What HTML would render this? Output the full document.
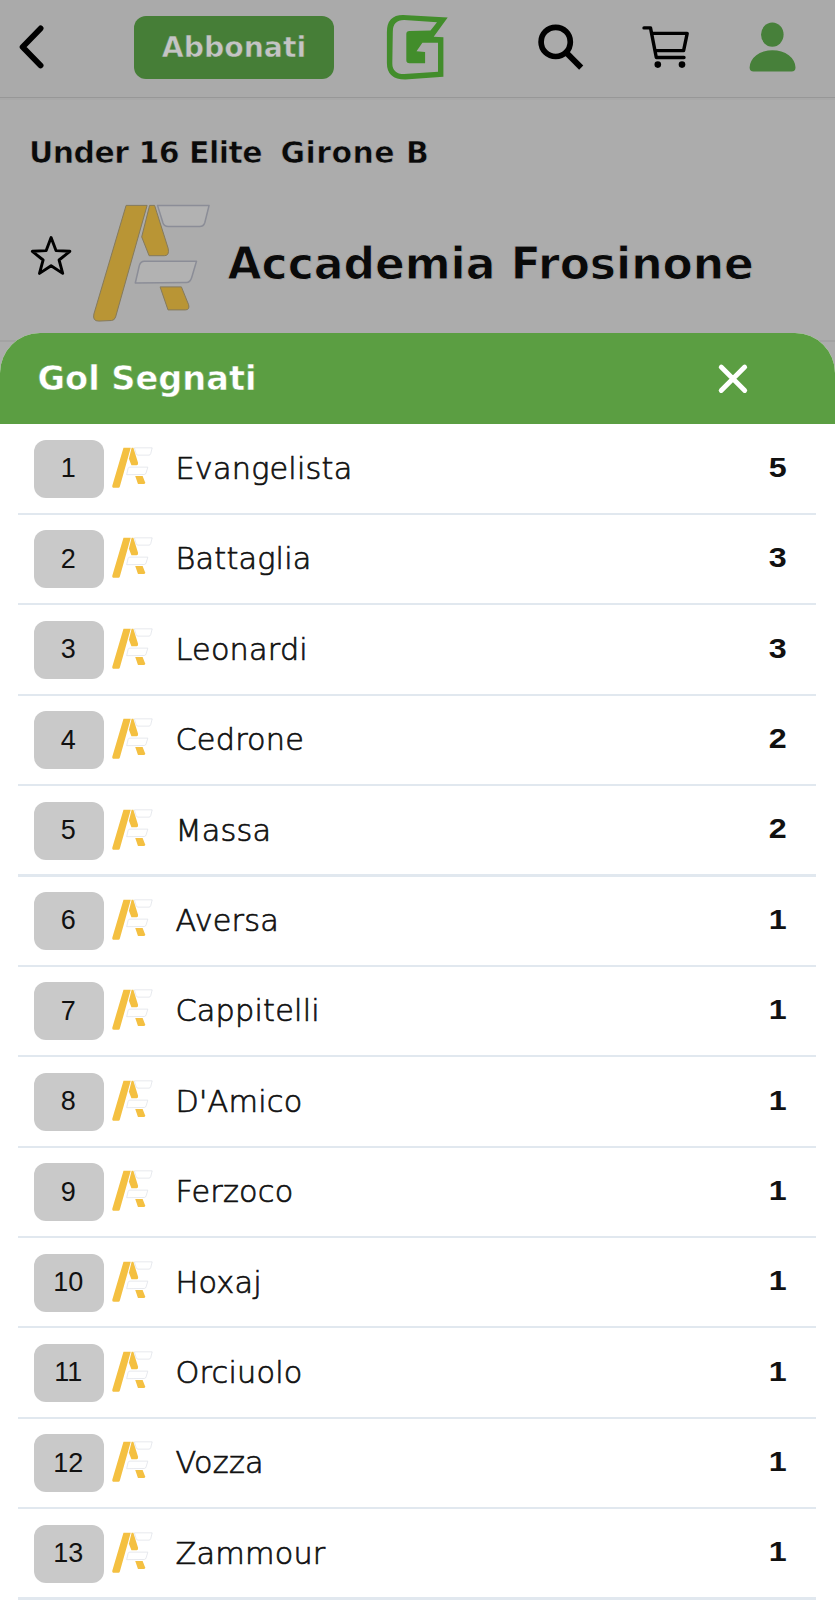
<!DOCTYPE html>
<html lang="it"><head><meta charset="utf-8"><title>Gol Segnati</title>
<style>
html,body{margin:0;padding:0;}
body{width:835px;height:1600px;overflow:hidden;position:relative;background:#acacac;font-family:"DejaVu Sans","Liberation Sans",sans-serif;color:#000;}
.abs{position:absolute;}
.hline{position:absolute;left:0;width:835px;height:2px;background:#9c9c9c;}
.btn{position:absolute;left:134px;top:15.5px;width:200px;height:63px;border-radius:12px;background:#467e37;color:#c4c4c4;-webkit-text-stroke:0.5px #467e37;font-weight:bold;font-size:28.3px;line-height:63px;text-align:center;}
.crumb{position:absolute;left:31px;top:131px;-webkit-text-stroke:0.6px #acacac;letter-spacing:-0.4px;font-weight:bold;font-size:30px;line-height:44px;white-space:nowrap;color:#0a0a0a;}
.team{position:absolute;left:227.5px;top:229px;-webkit-text-stroke:0.9px #acacac;font-weight:bold;font-size:44px;line-height:70px;white-space:nowrap;color:#0a0a0a;}
.sheet{position:absolute;left:0;top:332.8px;width:835px;height:1268px;background:#fff;border-radius:40px 40px 0 0;overflow:hidden;}
.sheethead{position:absolute;left:0;top:0;width:835px;height:91.7px;background:#5b9e42;}
.sheettitle{position:absolute;left:37.5px;top:22.5px;color:#fff;-webkit-text-stroke:0.5px #5b9e42;font-weight:bold;font-size:33.6px;line-height:48px;white-space:nowrap;}
.row{position:absolute;left:0;width:835px;height:90.4px;}
.badge{position:absolute;left:34px;top:15.5px;width:70px;height:58px;border-radius:12px;background:#c9c9c9;text-align:center;}
.badge span{position:relative;left:-0.8px;top:-0.6px;font-size:27px;line-height:58px;color:#111;font-family:"Liberation Sans",sans-serif;}
.mini{position:absolute;left:111px;top:22.6px;}
.name{position:absolute;left:175.5px;top:22.5px;font-size:30.3px;letter-spacing:0.2px;line-height:44px;white-space:nowrap;color:#111;font-weight:200;-webkit-text-stroke:0.7px #111;}
.goals{position:absolute;right:48.5px;top:20.3px;font-size:28.3px;line-height:44px;font-weight:bold;color:#111;font-family:"Liberation Sans",sans-serif;}
.goals span{display:inline-block;transform:scaleX(1.14);transform-origin:100% 50%;}
.sep{position:absolute;left:18px;width:798px;top:88.3px;height:2.2px;background:#e1e8ef;}
</style></head><body>

<!-- top bar -->
<div class="abs" style="left:0;top:0;width:835px;height:97px;background:#aaaaaa"></div>
<svg class="abs" style="left:0;top:0" width="835" height="100" viewBox="0 0 835 100">
  <path d="M40.6 28.4 L22.6 46.9 L40.6 65.4" fill="none" stroke="#000" stroke-width="5.8" stroke-linecap="round" stroke-linejoin="round"/>
  <!-- G logo -->
  <g>
   <path d="M403 14.9 L447.7 17.4 L433.7 36.8 L443.4 37.3 L443.4 76.7 L405.2 79.4 Q386.9 79.4 386.9 63.2 L386.9 31.9 Q386.9 14.9 403 14.9 Z" fill="#428d2b"/>
   <path d="M437 22.2 L404.1 20.1 Q392.8 20.1 392.8 31.9 L392.3 63.2 Q392.3 74 404.1 74 L438 71.8 L438 42.7 L422.4 42.7 L416.5 51.3 L425.1 51.9 L425.1 63.2 L409.5 63.2 Q406.3 63.2 406.3 60 L406.3 34.1 Q406.3 31.1 409.5 31.1 L430.5 30.6 Z" fill="#aaaaaa"/>
  </g>
  <!-- search -->
  <circle cx="555.7" cy="41.9" r="14.6" fill="none" stroke="#000" stroke-width="5.7"/>
  <path d="M566 52.4 L581.2 67.6" stroke="#000" stroke-width="5.8" stroke-linecap="butt"/>
  <!-- cart -->
  <path d="M644 27.9 L650.5 27.9 L656.3 57.5 L684 57.5" fill="none" stroke="#000" stroke-width="3.4" stroke-linecap="round" stroke-linejoin="round"/>
  <path d="M652 33.4 L687.2 33.4 L683.6 50.6 L655.5 50.6" fill="none" stroke="#000" stroke-width="3.4" stroke-linecap="round" stroke-linejoin="round"/>
  <circle cx="657.8" cy="64.6" r="3.3" fill="#000"/>
  <circle cx="682" cy="64.6" r="3.3" fill="#000"/>
  <!-- user -->
  <ellipse cx="772.3" cy="34.6" rx="11.3" ry="12.1" fill="#47803a"/>
  <path d="M749.6 67.5 A22.95 17.3 0 0 1 795.5 67.5 Q795.5 71.4 791.5 71.4 L753.6 71.4 Q749.6 71.4 749.6 67.5 Z" fill="#47803a"/>
</svg>
<div class="btn">Abbonati</div>
<div class="hline" style="top:96.6px;height:1.4px;background:#979797"></div><div class="hline" style="top:98px;height:1.5px;background:#a8a8a8"></div>

<div class="crumb" style="left:29px;letter-spacing:-0.55px">Under 16 Elite</div>
<div class="crumb" style="left:280.5px;letter-spacing:0.42px">Girone B</div>

<svg class="abs" style="left:0;top:190px" width="280" height="150" viewBox="0 190 280 150">
  <path d="M51.1 237.6 L56.0 250.6 L69.9 251.3 L59.1 260.0 L62.7 273.4 L51.1 265.8 L39.5 273.4 L43.1 260.0 L32.3 251.3 L46.2 250.6 Z" fill="none" stroke="#000" stroke-width="2.9" stroke-linejoin="round"/>
  
<path d="M126.1 205.4 L147.1 205.4 L115.6 317 Q114.6 320.4 111.5 320.5 L98.8 321.1 Q92.3 321.1 93.9 314 Z" fill="#b99535" stroke="#857a5c" stroke-width="1.0" stroke-linejoin="round"/>
<path d="M149.6 205.4 L154.6 205.4 L168.2 248.5 Q169.6 255.7 164.4 255.7 L149.1 255.7 L141.7 236.9 Z" fill="#b99535" stroke="#857a5c" stroke-width="1.0" stroke-linejoin="round"/>
<path d="M160.1 286.9 L181.4 286.9 L188.6 304.7 Q190 309.9 185.3 309.9 L168 309.9 Z" fill="#b99535" stroke="#857a5c" stroke-width="1.0" stroke-linejoin="round"/>
<path d="M157.5 205.4 L209.1 205.4 L204.9 222.2 Q203.7 226.5 199.7 226.5 L168.2 226.5 Q164.2 226.5 163 223 Z" fill="#b2b2b2" stroke="#8b8d97" stroke-width="1.5" stroke-linejoin="round"/>
<path d="M144.4 261.2 L196.5 261.2 L191.7 277.5 Q190.2 282.5 186.3 282.5 L135.3 283 L139.3 265.6 Q140.5 261.2 144.4 261.2 Z" fill="#b2b2b2" stroke="#8b8d97" stroke-width="1.5" stroke-linejoin="round"/>

</svg>
<div class="team">Accademia Frosinone</div>
<div class="hline" style="top:340.1px;height:1.5px;background:#a3a3a3"></div>

<div class="sheet">
  <div class="sheethead"></div>
  <div class="sheettitle">Gol Segnati</div>
  <svg class="abs" style="left:710px;top:23.2px" width="48" height="48" viewBox="710 356 48 48">
    <path d="M721.2 367.1 L744.7 390.4 M744.7 367.1 L721.2 390.4" stroke="#fff" stroke-width="4.9" stroke-linecap="round"/>
  </svg>
</div>
<div class="list">
<div class="row" style="top:424.50px">
<div class="badge"><span>1</span></div>
<svg class="mini" viewBox="90 203 122 120" width="42.2" height="41.5">
<path d="M126.1 205.4 L147.1 205.4 L115.6 317 Q114.6 320.4 111.5 320.5 L98.8 321.1 Q92.3 321.1 93.9 314 Z" fill="#f4c041" stroke="none" stroke-width="0" stroke-linejoin="round"/>
<path d="M149.6 205.4 L154.6 205.4 L168.2 248.5 Q169.6 255.7 164.4 255.7 L149.1 255.7 L141.7 236.9 Z" fill="#f4c041" stroke="none" stroke-width="0" stroke-linejoin="round"/>
<path d="M160.1 286.9 L181.4 286.9 L188.6 304.7 Q190 309.9 185.3 309.9 L168 309.9 Z" fill="#f4c041" stroke="none" stroke-width="0" stroke-linejoin="round"/>
<path d="M157.5 205.4 L209.1 205.4 L204.9 222.2 Q203.7 226.5 199.7 226.5 L168.2 226.5 Q164.2 226.5 163 223 Z" fill="#ffffff" stroke="#d9dce4" stroke-width="1.8" stroke-linejoin="round"/>
<path d="M144.4 261.2 L196.5 261.2 L191.7 277.5 Q190.2 282.5 186.3 282.5 L135.3 283 L139.3 265.6 Q140.5 261.2 144.4 261.2 Z" fill="#ffffff" stroke="#d9dce4" stroke-width="1.8" stroke-linejoin="round"/>
</svg>
<div class="name">Evangelista</div>
<div class="goals"><span>5</span></div>
<div class="sep"></div>
</div><div class="row" style="top:514.89px">
<div class="badge"><span>2</span></div>
<svg class="mini" viewBox="90 203 122 120" width="42.2" height="41.5">
<path d="M126.1 205.4 L147.1 205.4 L115.6 317 Q114.6 320.4 111.5 320.5 L98.8 321.1 Q92.3 321.1 93.9 314 Z" fill="#f4c041" stroke="none" stroke-width="0" stroke-linejoin="round"/>
<path d="M149.6 205.4 L154.6 205.4 L168.2 248.5 Q169.6 255.7 164.4 255.7 L149.1 255.7 L141.7 236.9 Z" fill="#f4c041" stroke="none" stroke-width="0" stroke-linejoin="round"/>
<path d="M160.1 286.9 L181.4 286.9 L188.6 304.7 Q190 309.9 185.3 309.9 L168 309.9 Z" fill="#f4c041" stroke="none" stroke-width="0" stroke-linejoin="round"/>
<path d="M157.5 205.4 L209.1 205.4 L204.9 222.2 Q203.7 226.5 199.7 226.5 L168.2 226.5 Q164.2 226.5 163 223 Z" fill="#ffffff" stroke="#d9dce4" stroke-width="1.8" stroke-linejoin="round"/>
<path d="M144.4 261.2 L196.5 261.2 L191.7 277.5 Q190.2 282.5 186.3 282.5 L135.3 283 L139.3 265.6 Q140.5 261.2 144.4 261.2 Z" fill="#ffffff" stroke="#d9dce4" stroke-width="1.8" stroke-linejoin="round"/>
</svg>
<div class="name">Battaglia</div>
<div class="goals"><span>3</span></div>
<div class="sep"></div>
</div><div class="row" style="top:605.28px">
<div class="badge"><span>3</span></div>
<svg class="mini" viewBox="90 203 122 120" width="42.2" height="41.5">
<path d="M126.1 205.4 L147.1 205.4 L115.6 317 Q114.6 320.4 111.5 320.5 L98.8 321.1 Q92.3 321.1 93.9 314 Z" fill="#f4c041" stroke="none" stroke-width="0" stroke-linejoin="round"/>
<path d="M149.6 205.4 L154.6 205.4 L168.2 248.5 Q169.6 255.7 164.4 255.7 L149.1 255.7 L141.7 236.9 Z" fill="#f4c041" stroke="none" stroke-width="0" stroke-linejoin="round"/>
<path d="M160.1 286.9 L181.4 286.9 L188.6 304.7 Q190 309.9 185.3 309.9 L168 309.9 Z" fill="#f4c041" stroke="none" stroke-width="0" stroke-linejoin="round"/>
<path d="M157.5 205.4 L209.1 205.4 L204.9 222.2 Q203.7 226.5 199.7 226.5 L168.2 226.5 Q164.2 226.5 163 223 Z" fill="#ffffff" stroke="#d9dce4" stroke-width="1.8" stroke-linejoin="round"/>
<path d="M144.4 261.2 L196.5 261.2 L191.7 277.5 Q190.2 282.5 186.3 282.5 L135.3 283 L139.3 265.6 Q140.5 261.2 144.4 261.2 Z" fill="#ffffff" stroke="#d9dce4" stroke-width="1.8" stroke-linejoin="round"/>
</svg>
<div class="name">Leonardi</div>
<div class="goals"><span>3</span></div>
<div class="sep"></div>
</div><div class="row" style="top:695.67px">
<div class="badge"><span>4</span></div>
<svg class="mini" viewBox="90 203 122 120" width="42.2" height="41.5">
<path d="M126.1 205.4 L147.1 205.4 L115.6 317 Q114.6 320.4 111.5 320.5 L98.8 321.1 Q92.3 321.1 93.9 314 Z" fill="#f4c041" stroke="none" stroke-width="0" stroke-linejoin="round"/>
<path d="M149.6 205.4 L154.6 205.4 L168.2 248.5 Q169.6 255.7 164.4 255.7 L149.1 255.7 L141.7 236.9 Z" fill="#f4c041" stroke="none" stroke-width="0" stroke-linejoin="round"/>
<path d="M160.1 286.9 L181.4 286.9 L188.6 304.7 Q190 309.9 185.3 309.9 L168 309.9 Z" fill="#f4c041" stroke="none" stroke-width="0" stroke-linejoin="round"/>
<path d="M157.5 205.4 L209.1 205.4 L204.9 222.2 Q203.7 226.5 199.7 226.5 L168.2 226.5 Q164.2 226.5 163 223 Z" fill="#ffffff" stroke="#d9dce4" stroke-width="1.8" stroke-linejoin="round"/>
<path d="M144.4 261.2 L196.5 261.2 L191.7 277.5 Q190.2 282.5 186.3 282.5 L135.3 283 L139.3 265.6 Q140.5 261.2 144.4 261.2 Z" fill="#ffffff" stroke="#d9dce4" stroke-width="1.8" stroke-linejoin="round"/>
</svg>
<div class="name">Cedrone</div>
<div class="goals"><span>2</span></div>
<div class="sep"></div>
</div><div class="row" style="top:786.06px">
<div class="badge"><span>5</span></div>
<svg class="mini" viewBox="90 203 122 120" width="42.2" height="41.5">
<path d="M126.1 205.4 L147.1 205.4 L115.6 317 Q114.6 320.4 111.5 320.5 L98.8 321.1 Q92.3 321.1 93.9 314 Z" fill="#f4c041" stroke="none" stroke-width="0" stroke-linejoin="round"/>
<path d="M149.6 205.4 L154.6 205.4 L168.2 248.5 Q169.6 255.7 164.4 255.7 L149.1 255.7 L141.7 236.9 Z" fill="#f4c041" stroke="none" stroke-width="0" stroke-linejoin="round"/>
<path d="M160.1 286.9 L181.4 286.9 L188.6 304.7 Q190 309.9 185.3 309.9 L168 309.9 Z" fill="#f4c041" stroke="none" stroke-width="0" stroke-linejoin="round"/>
<path d="M157.5 205.4 L209.1 205.4 L204.9 222.2 Q203.7 226.5 199.7 226.5 L168.2 226.5 Q164.2 226.5 163 223 Z" fill="#ffffff" stroke="#d9dce4" stroke-width="1.8" stroke-linejoin="round"/>
<path d="M144.4 261.2 L196.5 261.2 L191.7 277.5 Q190.2 282.5 186.3 282.5 L135.3 283 L139.3 265.6 Q140.5 261.2 144.4 261.2 Z" fill="#ffffff" stroke="#d9dce4" stroke-width="1.8" stroke-linejoin="round"/>
</svg>
<div class="name">Massa</div>
<div class="goals"><span>2</span></div>
<div class="sep"></div>
</div><div class="row" style="top:876.45px">
<div class="badge"><span>6</span></div>
<svg class="mini" viewBox="90 203 122 120" width="42.2" height="41.5">
<path d="M126.1 205.4 L147.1 205.4 L115.6 317 Q114.6 320.4 111.5 320.5 L98.8 321.1 Q92.3 321.1 93.9 314 Z" fill="#f4c041" stroke="none" stroke-width="0" stroke-linejoin="round"/>
<path d="M149.6 205.4 L154.6 205.4 L168.2 248.5 Q169.6 255.7 164.4 255.7 L149.1 255.7 L141.7 236.9 Z" fill="#f4c041" stroke="none" stroke-width="0" stroke-linejoin="round"/>
<path d="M160.1 286.9 L181.4 286.9 L188.6 304.7 Q190 309.9 185.3 309.9 L168 309.9 Z" fill="#f4c041" stroke="none" stroke-width="0" stroke-linejoin="round"/>
<path d="M157.5 205.4 L209.1 205.4 L204.9 222.2 Q203.7 226.5 199.7 226.5 L168.2 226.5 Q164.2 226.5 163 223 Z" fill="#ffffff" stroke="#d9dce4" stroke-width="1.8" stroke-linejoin="round"/>
<path d="M144.4 261.2 L196.5 261.2 L191.7 277.5 Q190.2 282.5 186.3 282.5 L135.3 283 L139.3 265.6 Q140.5 261.2 144.4 261.2 Z" fill="#ffffff" stroke="#d9dce4" stroke-width="1.8" stroke-linejoin="round"/>
</svg>
<div class="name">Aversa</div>
<div class="goals"><span>1</span></div>
<div class="sep"></div>
</div><div class="row" style="top:966.84px">
<div class="badge"><span>7</span></div>
<svg class="mini" viewBox="90 203 122 120" width="42.2" height="41.5">
<path d="M126.1 205.4 L147.1 205.4 L115.6 317 Q114.6 320.4 111.5 320.5 L98.8 321.1 Q92.3 321.1 93.9 314 Z" fill="#f4c041" stroke="none" stroke-width="0" stroke-linejoin="round"/>
<path d="M149.6 205.4 L154.6 205.4 L168.2 248.5 Q169.6 255.7 164.4 255.7 L149.1 255.7 L141.7 236.9 Z" fill="#f4c041" stroke="none" stroke-width="0" stroke-linejoin="round"/>
<path d="M160.1 286.9 L181.4 286.9 L188.6 304.7 Q190 309.9 185.3 309.9 L168 309.9 Z" fill="#f4c041" stroke="none" stroke-width="0" stroke-linejoin="round"/>
<path d="M157.5 205.4 L209.1 205.4 L204.9 222.2 Q203.7 226.5 199.7 226.5 L168.2 226.5 Q164.2 226.5 163 223 Z" fill="#ffffff" stroke="#d9dce4" stroke-width="1.8" stroke-linejoin="round"/>
<path d="M144.4 261.2 L196.5 261.2 L191.7 277.5 Q190.2 282.5 186.3 282.5 L135.3 283 L139.3 265.6 Q140.5 261.2 144.4 261.2 Z" fill="#ffffff" stroke="#d9dce4" stroke-width="1.8" stroke-linejoin="round"/>
</svg>
<div class="name">Cappitelli</div>
<div class="goals"><span>1</span></div>
<div class="sep"></div>
</div><div class="row" style="top:1057.23px">
<div class="badge"><span>8</span></div>
<svg class="mini" viewBox="90 203 122 120" width="42.2" height="41.5">
<path d="M126.1 205.4 L147.1 205.4 L115.6 317 Q114.6 320.4 111.5 320.5 L98.8 321.1 Q92.3 321.1 93.9 314 Z" fill="#f4c041" stroke="none" stroke-width="0" stroke-linejoin="round"/>
<path d="M149.6 205.4 L154.6 205.4 L168.2 248.5 Q169.6 255.7 164.4 255.7 L149.1 255.7 L141.7 236.9 Z" fill="#f4c041" stroke="none" stroke-width="0" stroke-linejoin="round"/>
<path d="M160.1 286.9 L181.4 286.9 L188.6 304.7 Q190 309.9 185.3 309.9 L168 309.9 Z" fill="#f4c041" stroke="none" stroke-width="0" stroke-linejoin="round"/>
<path d="M157.5 205.4 L209.1 205.4 L204.9 222.2 Q203.7 226.5 199.7 226.5 L168.2 226.5 Q164.2 226.5 163 223 Z" fill="#ffffff" stroke="#d9dce4" stroke-width="1.8" stroke-linejoin="round"/>
<path d="M144.4 261.2 L196.5 261.2 L191.7 277.5 Q190.2 282.5 186.3 282.5 L135.3 283 L139.3 265.6 Q140.5 261.2 144.4 261.2 Z" fill="#ffffff" stroke="#d9dce4" stroke-width="1.8" stroke-linejoin="round"/>
</svg>
<div class="name">D'Amico</div>
<div class="goals"><span>1</span></div>
<div class="sep"></div>
</div><div class="row" style="top:1147.62px">
<div class="badge"><span>9</span></div>
<svg class="mini" viewBox="90 203 122 120" width="42.2" height="41.5">
<path d="M126.1 205.4 L147.1 205.4 L115.6 317 Q114.6 320.4 111.5 320.5 L98.8 321.1 Q92.3 321.1 93.9 314 Z" fill="#f4c041" stroke="none" stroke-width="0" stroke-linejoin="round"/>
<path d="M149.6 205.4 L154.6 205.4 L168.2 248.5 Q169.6 255.7 164.4 255.7 L149.1 255.7 L141.7 236.9 Z" fill="#f4c041" stroke="none" stroke-width="0" stroke-linejoin="round"/>
<path d="M160.1 286.9 L181.4 286.9 L188.6 304.7 Q190 309.9 185.3 309.9 L168 309.9 Z" fill="#f4c041" stroke="none" stroke-width="0" stroke-linejoin="round"/>
<path d="M157.5 205.4 L209.1 205.4 L204.9 222.2 Q203.7 226.5 199.7 226.5 L168.2 226.5 Q164.2 226.5 163 223 Z" fill="#ffffff" stroke="#d9dce4" stroke-width="1.8" stroke-linejoin="round"/>
<path d="M144.4 261.2 L196.5 261.2 L191.7 277.5 Q190.2 282.5 186.3 282.5 L135.3 283 L139.3 265.6 Q140.5 261.2 144.4 261.2 Z" fill="#ffffff" stroke="#d9dce4" stroke-width="1.8" stroke-linejoin="round"/>
</svg>
<div class="name">Ferzoco</div>
<div class="goals"><span>1</span></div>
<div class="sep"></div>
</div><div class="row" style="top:1238.01px">
<div class="badge"><span>10</span></div>
<svg class="mini" viewBox="90 203 122 120" width="42.2" height="41.5">
<path d="M126.1 205.4 L147.1 205.4 L115.6 317 Q114.6 320.4 111.5 320.5 L98.8 321.1 Q92.3 321.1 93.9 314 Z" fill="#f4c041" stroke="none" stroke-width="0" stroke-linejoin="round"/>
<path d="M149.6 205.4 L154.6 205.4 L168.2 248.5 Q169.6 255.7 164.4 255.7 L149.1 255.7 L141.7 236.9 Z" fill="#f4c041" stroke="none" stroke-width="0" stroke-linejoin="round"/>
<path d="M160.1 286.9 L181.4 286.9 L188.6 304.7 Q190 309.9 185.3 309.9 L168 309.9 Z" fill="#f4c041" stroke="none" stroke-width="0" stroke-linejoin="round"/>
<path d="M157.5 205.4 L209.1 205.4 L204.9 222.2 Q203.7 226.5 199.7 226.5 L168.2 226.5 Q164.2 226.5 163 223 Z" fill="#ffffff" stroke="#d9dce4" stroke-width="1.8" stroke-linejoin="round"/>
<path d="M144.4 261.2 L196.5 261.2 L191.7 277.5 Q190.2 282.5 186.3 282.5 L135.3 283 L139.3 265.6 Q140.5 261.2 144.4 261.2 Z" fill="#ffffff" stroke="#d9dce4" stroke-width="1.8" stroke-linejoin="round"/>
</svg>
<div class="name">Hoxaj</div>
<div class="goals"><span>1</span></div>
<div class="sep"></div>
</div><div class="row" style="top:1328.40px">
<div class="badge"><span>11</span></div>
<svg class="mini" viewBox="90 203 122 120" width="42.2" height="41.5">
<path d="M126.1 205.4 L147.1 205.4 L115.6 317 Q114.6 320.4 111.5 320.5 L98.8 321.1 Q92.3 321.1 93.9 314 Z" fill="#f4c041" stroke="none" stroke-width="0" stroke-linejoin="round"/>
<path d="M149.6 205.4 L154.6 205.4 L168.2 248.5 Q169.6 255.7 164.4 255.7 L149.1 255.7 L141.7 236.9 Z" fill="#f4c041" stroke="none" stroke-width="0" stroke-linejoin="round"/>
<path d="M160.1 286.9 L181.4 286.9 L188.6 304.7 Q190 309.9 185.3 309.9 L168 309.9 Z" fill="#f4c041" stroke="none" stroke-width="0" stroke-linejoin="round"/>
<path d="M157.5 205.4 L209.1 205.4 L204.9 222.2 Q203.7 226.5 199.7 226.5 L168.2 226.5 Q164.2 226.5 163 223 Z" fill="#ffffff" stroke="#d9dce4" stroke-width="1.8" stroke-linejoin="round"/>
<path d="M144.4 261.2 L196.5 261.2 L191.7 277.5 Q190.2 282.5 186.3 282.5 L135.3 283 L139.3 265.6 Q140.5 261.2 144.4 261.2 Z" fill="#ffffff" stroke="#d9dce4" stroke-width="1.8" stroke-linejoin="round"/>
</svg>
<div class="name">Orciuolo</div>
<div class="goals"><span>1</span></div>
<div class="sep"></div>
</div><div class="row" style="top:1418.79px">
<div class="badge"><span>12</span></div>
<svg class="mini" viewBox="90 203 122 120" width="42.2" height="41.5">
<path d="M126.1 205.4 L147.1 205.4 L115.6 317 Q114.6 320.4 111.5 320.5 L98.8 321.1 Q92.3 321.1 93.9 314 Z" fill="#f4c041" stroke="none" stroke-width="0" stroke-linejoin="round"/>
<path d="M149.6 205.4 L154.6 205.4 L168.2 248.5 Q169.6 255.7 164.4 255.7 L149.1 255.7 L141.7 236.9 Z" fill="#f4c041" stroke="none" stroke-width="0" stroke-linejoin="round"/>
<path d="M160.1 286.9 L181.4 286.9 L188.6 304.7 Q190 309.9 185.3 309.9 L168 309.9 Z" fill="#f4c041" stroke="none" stroke-width="0" stroke-linejoin="round"/>
<path d="M157.5 205.4 L209.1 205.4 L204.9 222.2 Q203.7 226.5 199.7 226.5 L168.2 226.5 Q164.2 226.5 163 223 Z" fill="#ffffff" stroke="#d9dce4" stroke-width="1.8" stroke-linejoin="round"/>
<path d="M144.4 261.2 L196.5 261.2 L191.7 277.5 Q190.2 282.5 186.3 282.5 L135.3 283 L139.3 265.6 Q140.5 261.2 144.4 261.2 Z" fill="#ffffff" stroke="#d9dce4" stroke-width="1.8" stroke-linejoin="round"/>
</svg>
<div class="name">Vozza</div>
<div class="goals"><span>1</span></div>
<div class="sep"></div>
</div><div class="row" style="top:1509.18px">
<div class="badge"><span>13</span></div>
<svg class="mini" viewBox="90 203 122 120" width="42.2" height="41.5">
<path d="M126.1 205.4 L147.1 205.4 L115.6 317 Q114.6 320.4 111.5 320.5 L98.8 321.1 Q92.3 321.1 93.9 314 Z" fill="#f4c041" stroke="none" stroke-width="0" stroke-linejoin="round"/>
<path d="M149.6 205.4 L154.6 205.4 L168.2 248.5 Q169.6 255.7 164.4 255.7 L149.1 255.7 L141.7 236.9 Z" fill="#f4c041" stroke="none" stroke-width="0" stroke-linejoin="round"/>
<path d="M160.1 286.9 L181.4 286.9 L188.6 304.7 Q190 309.9 185.3 309.9 L168 309.9 Z" fill="#f4c041" stroke="none" stroke-width="0" stroke-linejoin="round"/>
<path d="M157.5 205.4 L209.1 205.4 L204.9 222.2 Q203.7 226.5 199.7 226.5 L168.2 226.5 Q164.2 226.5 163 223 Z" fill="#ffffff" stroke="#d9dce4" stroke-width="1.8" stroke-linejoin="round"/>
<path d="M144.4 261.2 L196.5 261.2 L191.7 277.5 Q190.2 282.5 186.3 282.5 L135.3 283 L139.3 265.6 Q140.5 261.2 144.4 261.2 Z" fill="#ffffff" stroke="#d9dce4" stroke-width="1.8" stroke-linejoin="round"/>
</svg>
<div class="name">Zammour</div>
<div class="goals"><span>1</span></div>
<div class="sep"></div>
</div>
</div>
</body></html>
